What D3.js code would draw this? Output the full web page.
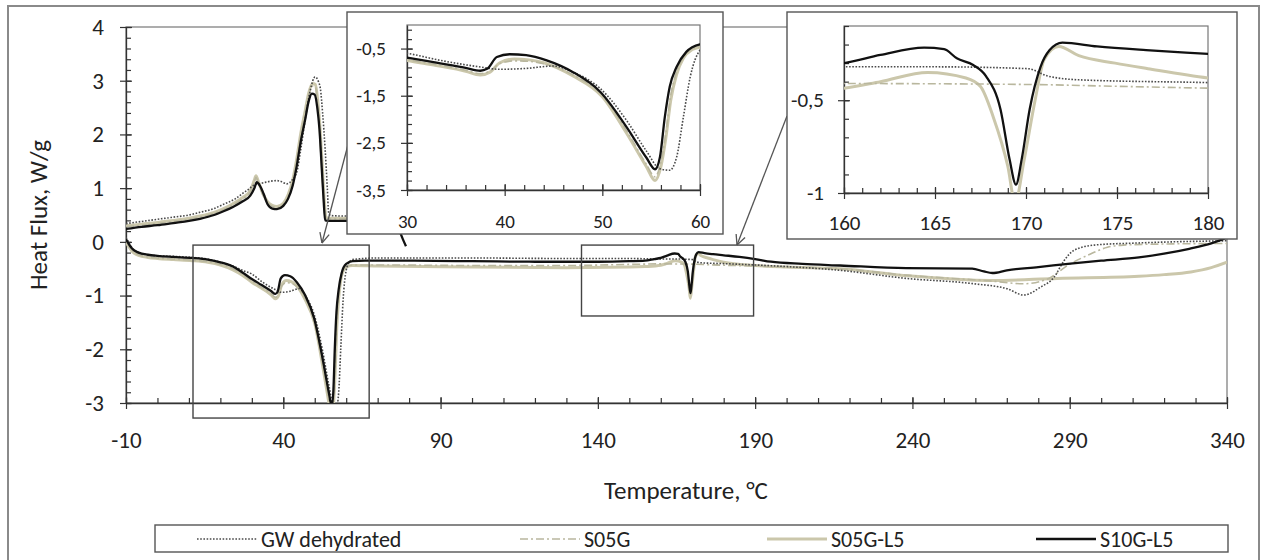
<!DOCTYPE html>
<html><head><meta charset="utf-8">
<script src="https://cdn.jsdelivr.net/npm/d3@7"></script>
<style>body{margin:0;background:#fff}</style>
</head><body><svg id="c" width="1263" height="560"></svg>
<script>
// ---------------- DATA ----------------
const seriesNames = ["GW dehydrated", "S05G", "S05G-L5", "S10G-L5"];

// heating runs [temperature °C, heat flux W/g]
const gwHeat = [[-10,0.08],[-9,-0.02],[-8,-0.12],[-6,-0.2],[-3,-0.24],[0,-0.26],[5,-0.27],[11,-0.29],[16,-0.32],[20,-0.38],[24,-0.45],[27,-0.53],[30,-0.6],[33.4,-0.75],[37.5,-0.89],[39.5,-0.94],[42.2,-0.92],[45,-0.87],[47,-1.0],[49.8,-1.35],[52.5,-2.03],[54.5,-2.67],[55.9,-3.05],[56.9,-3.08],[57.6,-2.81],[58.3,-1.95],[59,-1.1],[60,-0.53],[61,-0.38],[62,-0.33],[70,-0.3],[100,-0.3],[130,-0.31],[150,-0.31],[160,-0.32],[165,-0.32],[170.1,-0.33],[171.2,-0.37],[172.9,-0.39],[180,-0.405],[190,-0.43],[200,-0.46],[217,-0.53],[238,-0.68],[259.5,-0.78],[270.2,-0.875],[275.4,-0.99],[280.8,-0.84],[285,-0.66],[288.2,-0.35],[291.3,-0.16],[297.7,-0.06],[312,-0.02],[340,0.02]];
const s05gHeat = [[-10,0.02],[-9,-0.08],[-8,-0.16],[-6,-0.24],[-3,-0.28],[0,-0.3],[5,-0.32],[11,-0.34],[16,-0.37],[20,-0.42],[24,-0.5],[27,-0.6],[30,-0.73],[33,-0.84],[36,-0.96],[37.5,-1.03],[38.5,-0.98],[39.5,-0.82],[41,-0.76],[42.5,-0.77],[44,-0.82],[47,-1.06],[50,-1.5],[52.5,-2.25],[54.5,-2.95],[55.4,-3.22],[56,-2.9],[56.5,-2.3],[57,-1.5],[57.6,-1.0],[58.3,-0.68],[59.2,-0.5],[60,-0.46],[62,-0.43],[70,-0.43],[100,-0.44],[130,-0.44],[150,-0.42],[160,-0.41],[170,-0.415],[175,-0.425],[180,-0.435],[190,-0.45],[200,-0.47],[217,-0.5],[238,-0.62],[265,-0.73],[275.4,-0.78],[283,-0.69],[289.3,-0.44],[295.7,-0.25],[302,-0.1],[307,-0.06],[320,-0.04],[340,-0.03]];
const s05gl5Heat = [[-10,0.0],[-9,-0.1],[-8,-0.18],[-6,-0.25],[-3,-0.29],[0,-0.31],[5,-0.33],[11,-0.35],[16,-0.38],[20,-0.43],[24,-0.52],[27,-0.62],[30,-0.75],[33,-0.86],[36,-0.98],[37.5,-1.06],[38.5,-1.0],[39.5,-0.8],[41,-0.72],[42.5,-0.74],[44,-0.8],[47,-1.08],[50,-1.52],[52.5,-2.3],[54.5,-3.0],[55.4,-3.3],[56,-3.0],[56.5,-2.4],[57,-1.6],[57.6,-1.05],[58.3,-0.7],[59.2,-0.52],[60,-0.47],[62,-0.44],[70,-0.45],[100,-0.47],[130,-0.48],[150,-0.47],[155,-0.46],[160,-0.435],[162,-0.4],[164.6,-0.35],[166.7,-0.38],[167.5,-0.426],[168.2,-0.59],[169,-0.856],[169.4,-1.05],[169.9,-0.82],[170.5,-0.5],[171,-0.28],[171.8,-0.21],[172.9,-0.26],[174.9,-0.3],[176.7,-0.33],[180,-0.38],[190,-0.44],[200,-0.47],[217,-0.5],[238,-0.63],[265,-0.72],[286,-0.68],[312,-0.64],[320,-0.61],[328.5,-0.56],[335,-0.48],[340,-0.38]];
const s10gl5Heat = [[-10,0.05],[-9,-0.05],[-8,-0.13],[-6,-0.2],[-3,-0.24],[0,-0.26],[5,-0.28],[11,-0.3],[16,-0.33],[20,-0.38],[24,-0.46],[27,-0.57],[30,-0.69],[33,-0.8],[36,-0.91],[37.5,-0.97],[38.2,-0.93],[39.2,-0.68],[40.5,-0.62],[42.2,-0.64],[44.3,-0.75],[47,-1.0],[49.8,-1.42],[52.5,-2.17],[54.5,-2.81],[55.4,-3.06],[55.9,-2.8],[56.4,-1.95],[56.9,-1.31],[57.6,-0.89],[58.6,-0.57],[60,-0.41],[62,-0.36],[66,-0.35],[80,-0.35],[100,-0.36],[120,-0.37],[140,-0.37],[150,-0.36],[155,-0.35],[158,-0.32],[160,-0.3],[162,-0.256],[164.4,-0.217],[165.5,-0.225],[166.2,-0.274],[167.1,-0.31],[167.8,-0.37],[168.6,-0.55],[169.1,-0.82],[169.45,-0.955],[169.76,-0.82],[170.2,-0.55],[170.8,-0.32],[171.3,-0.23],[172,-0.19],[173.9,-0.21],[176.6,-0.23],[180,-0.25],[185,-0.28],[190,-0.32],[195,-0.37],[205,-0.41],[217,-0.44],[238,-0.49],[259,-0.5],[262.7,-0.55],[265.4,-0.58],[270,-0.53],[280,-0.47],[291,-0.4],[300,-0.35],[312,-0.29],[320,-0.22],[328,-0.13],[335,-0.03],[340,0.08]];

// cooling runs [temperature °C, heat flux W/g]
const gwCool = [[-10,0.34],[-5,0.38],[0,0.42],[5,0.46],[10,0.5],[13.5,0.55],[18,0.62],[21,0.7],[24.7,0.8],[27,0.9],[29,0.98],[30.5,1.05],[33.7,1.1],[36,1.13],[37.9,1.14],[39.5,1.12],[41.1,1.08],[42.8,1.15],[44.3,1.3],[45.5,1.7],[47,2.29],[48.5,2.8],[50.1,3.07],[51.2,2.98],[51.8,2.85],[52.5,2.4],[53.3,1.73],[54,1.0],[54.4,0.55],[55,0.49],[60,0.48],[74,0.48]];
const s05gCool = [[-10,0.28],[-5,0.31],[0,0.34],[5,0.38],[10,0.42],[13.5,0.46],[18,0.53],[21,0.6],[24,0.69],[27,0.8],[29.5,0.93],[30.8,1.12],[31.3,1.2],[32.2,1.08],[33.5,0.88],[35,0.73],[36.5,0.66],[38,0.64],[40,0.7],[41.5,0.85],[43,1.12],[44.3,1.5],[45.5,1.95],[47,2.4],[48,2.7],[49.3,2.9],[50.2,2.88],[51,2.55],[51.7,2.05],[52.4,1.35],[53,0.78],[53.6,0.44],[55,0.43],[60,0.43],[74,0.43]];
const s05gl5Cool = [[-10,0.3],[-5,0.33],[0,0.36],[5,0.4],[10,0.44],[13.5,0.48],[18,0.55],[21,0.62],[24,0.71],[27,0.82],[29.5,0.95],[30.8,1.15],[31.3,1.23],[32.2,1.1],[33.5,0.9],[35,0.75],[36.5,0.68],[38,0.66],[40,0.72],[41.5,0.87],[43,1.15],[44.3,1.55],[45.5,2.0],[47,2.45],[48,2.75],[49.3,2.95],[50.2,2.93],[51,2.6],[51.7,2.1],[52.4,1.4],[53,0.8],[53.6,0.45],[55,0.44],[60,0.44],[74,0.44]];
const s10gl5Cool = [[-10,0.24],[-5,0.28],[0,0.31],[5,0.35],[10,0.39],[13.5,0.43],[18,0.5],[21,0.57],[24,0.65],[27,0.75],[29.5,0.86],[30.8,1.0],[31.6,1.11],[32.5,1.05],[33.7,0.9],[35,0.7],[36.5,0.62],[38,0.61],[40,0.67],[41.5,0.8],[43,1.05],[44.3,1.42],[45.5,1.85],[47,2.29],[48,2.6],[49.1,2.76],[50,2.74],[50.8,2.5],[51.5,2.1],[52.2,1.4],[52.8,0.8],[53.3,0.4],[55,0.39],[60,0.39],[70,0.39],[75,0.39],[76,0.36],[77,0.2],[78,0.05],[79,-0.08]];

// axis ticks
const mainXTicks = [-10, 40, 90, 140, 190, 240, 290, 340];
const mainYTicks = [-3, -2, -1, 0, 1, 2, 3, 4];
const inset1XTicks = [30, 40, 50, 60];
const inset1YTicks = [-0.5, -1.5, -2.5, -3.5];
const inset2XTicks = [160, 165, 170, 175, 180];
const inset2YTicks = [-1, -0.5];
// zoomed regions marked on the main chart [tMin, tMax, fluxTop, fluxBottom]
const zoomRegions = [[11.3, 67.3, -0.06, -3.28], [134.8, 189.5, -0.06, -1.38]];

// ---------------- STYLE ----------------
const FONT = "Carlito, Calibri, Lato, 'Open Sans', sans-serif";
const styles = [
  {color: "#4a4a4a", width: 1.6, dash: "1.6,1.6"},
  {color: "#b9b79e", width: 1.6, dash: "8,3,2,3"},
  {color: "#cbc7ab", width: 3.0, dash: null},
  {color: "#111111", width: 2.3, dash: null}
];
const heatRuns = [gwHeat, s05gHeat, s05gl5Heat, s10gl5Heat];
const coolRuns = [gwCool, s05gCool, s05gl5Cool, s10gl5Cool];
const drawOrder = [2, 1, 0, 3];

const svg = d3.select("#c");
svg.append("rect").attr("width", 1263).attr("height", 560).attr("fill", "#fff");
// outer chart border
svg.append("rect").attr("x", 8).attr("y", 6).attr("width", 1251).attr("height", 562)
  .attr("fill", "none").attr("stroke", "#8a8a8a").attr("stroke-width", 2);

function range(a, b, s) { const r = []; for (let v = a; v <= b + 1e-9; v += s) r.push(+v.toFixed(4)); return r; }

function panel(id, x, y, xMaj, xMin, yMaj, yMin, fmt, fs, yLabX, xLabY, drawCooling) {
  const g = svg.append("g");
  const [x0, x1] = x.range(), [yb, yt] = y.range();
  g.append("clipPath").attr("id", id).append("rect")
    .attr("x", x0).attr("y", yt).attr("width", x1 - x0).attr("height", yb - yt);
  g.append("rect").attr("x", x0).attr("y", yt).attr("width", x1 - x0).attr("height", yb - yt)
    .attr("fill", "none").attr("stroke", "#777").attr("stroke-width", 1.2);
  // minor ticks (inside)
  const mny = g.append("g").attr("transform", `translate(${x0},0)`)
    .call(d3.axisRight(y).tickValues(yMin).tickSize(5).tickFormat(""));
  mny.select(".domain").remove();
  const mnx = g.append("g").attr("transform", `translate(0,${yb})`)
    .call(d3.axisTop(x).tickValues(xMin).tickSize(5).tickFormat(""));
  mnx.select(".domain").remove();
  // major ticks (cross)
  const gy = g.append("g").attr("transform", `translate(${x0},0)`)
    .call(d3.axisLeft(y).tickValues(yMaj).tickSize(6).tickSizeOuter(0).tickFormat(fmt));
  gy.selectAll(".tick line").attr("x1", 6);
  gy.selectAll(".tick text").attr("x", yLabX);
  const gx = g.append("g").attr("transform", `translate(0,${yb})`)
    .call(d3.axisBottom(x).tickValues(xMaj).tickSize(6).tickSizeOuter(0).tickFormat(fmt));
  gx.selectAll(".tick line").attr("y1", -6);
  gx.selectAll(".tick text").attr("y", xLabY).attr("dy", 0);
  g.selectAll(".domain").attr("stroke", "#333").attr("stroke-width", 1.3);
  g.selectAll(".tick line").attr("stroke", "#333").attr("stroke-width", 1.2);
  g.selectAll(".tick text").attr("font-family", FONT).attr("font-size", fs).attr("fill", "#222");

  const line = d3.line().x(d => x(d[0])).y(d => y(d[1])).curve(d3.curveMonotoneX);
  const lg = g.append("g").attr("clip-path", `url(#${id})`);
  drawOrder.forEach(i => {
    const runs = drawCooling ? [heatRuns[i], coolRuns[i]] : [heatRuns[i]];
    runs.forEach(r => {
      lg.append("path").attr("d", line(r)).attr("fill", "none")
        .attr("stroke", styles[i].color).attr("stroke-width", styles[i].width)
        .attr("stroke-dasharray", styles[i].dash).attr("stroke-linejoin", "round");
    });
  });
  return g;
}

const fmtMain = d => String(d);
const fmtComma = d => String(d).replace(".", ",");

// main chart
const xM = d3.scaleLinear().domain([-10, 340]).range([126, 1227]);
const yM = d3.scaleLinear().domain([-3, 4]).range([403, 27]);
panel("clipMain", xM, yM, mainXTicks, range(-10, 340, 10), mainYTicks, range(-3, 4, 0.2), fmtMain, 23, -22, 45, true);

// zoom boxes
svg.append("g").selectAll("rect").data(zoomRegions).join("rect")
  .attr("x", d => xM(d[0])).attr("y", d => yM(d[2]))
  .attr("width", d => xM(d[1]) - xM(d[0])).attr("height", d => yM(d[3]) - yM(d[2]))
  .attr("fill", "none").attr("stroke", "#444").attr("stroke-width", 1.4);

// arrows
const arrows = [[349, 141, 322, 243], [787, 116, 737, 245]];
arrows.forEach(a => {
  const [x1, y1, x2, y2] = a;
  svg.append("line").attr("x1", x1).attr("y1", y1).attr("x2", x2).attr("y2", y2)
    .attr("stroke", "#555").attr("stroke-width", 1.3);
  const ang = Math.atan2(y2 - y1, x2 - x1), L = 11, sp = 0.45;
  [ang + Math.PI - sp, ang + Math.PI + sp].forEach(t => {
    svg.append("line").attr("x1", x2).attr("y1", y2)
      .attr("x2", x2 + L * Math.cos(t)).attr("y2", y2 + L * Math.sin(t))
      .attr("stroke", "#555").attr("stroke-width", 1.3);
  });
});

// inset 1
svg.append("rect").attr("x", 347).attr("y", 12).attr("width", 376).attr("height", 222)
  .attr("fill", "#fff").attr("stroke", "#555").attr("stroke-width", 1.4);
const xI1 = d3.scaleLinear().domain([30, 60]).range([407, 700]);
const yI1 = d3.scaleLinear().domain([-3.5, 0]).range([190, 25]);
panel("clipI1", xI1, yI1, inset1XTicks, range(30, 60, 2), inset1YTicks, range(-3.5, -0.1, 0.2), fmtComma, 19, -21, 38, false);

// inset 2
svg.append("rect").attr("x", 787).attr("y", 12).attr("width", 450).attr("height", 227)
  .attr("fill", "#fff").attr("stroke", "#555").attr("stroke-width", 1.4);
const xI2 = d3.scaleLinear().domain([160, 180]).range([844, 1208]);
const yI2 = d3.scaleLinear().domain([-1, -0.1]).range([193, 26]);
panel("clipI2", xI2, yI2, inset2XTicks, range(160, 180, 1), inset2YTicks, range(-1, -0.1, 0.1), fmtComma, 21, -20, 37, false);

// axis titles
svg.append("text").attr("x", 686).attr("y", 499).attr("text-anchor", "middle")
  .attr("font-family", FONT).attr("font-size", 25).attr("fill", "#222")
  .text("Temperature, °C");
svg.append("text").attr("transform", "translate(47,215) rotate(-90)").attr("text-anchor", "middle")
  .attr("font-family", FONT).attr("font-size", 25).attr("fill", "#222")
  .text("Heat Flux, W/g");

// legend
svg.append("rect").attr("x", 155).attr("y", 525).attr("width", 1073).attr("height", 27)
  .attr("fill", "#fff").attr("stroke", "#555").attr("stroke-width", 1.4);
const legX = [197, 520, 767, 1036];
const leg = svg.append("g").selectAll("g").data(seriesNames).join("g")
  .attr("transform", (d, i) => `translate(${legX[i]},539)`);
leg.append("line").attr("x1", 0).attr("x2", 60)
  .attr("stroke", (d, i) => styles[i].color).attr("stroke-width", (d, i) => styles[i].width)
  .attr("stroke-dasharray", (d, i) => styles[i].dash);
leg.append("text").attr("x", 64).attr("y", 8)
  .attr("font-family", FONT).attr("font-size", 22).attr("fill", "#222").text(d => d);
</script></body></html>
